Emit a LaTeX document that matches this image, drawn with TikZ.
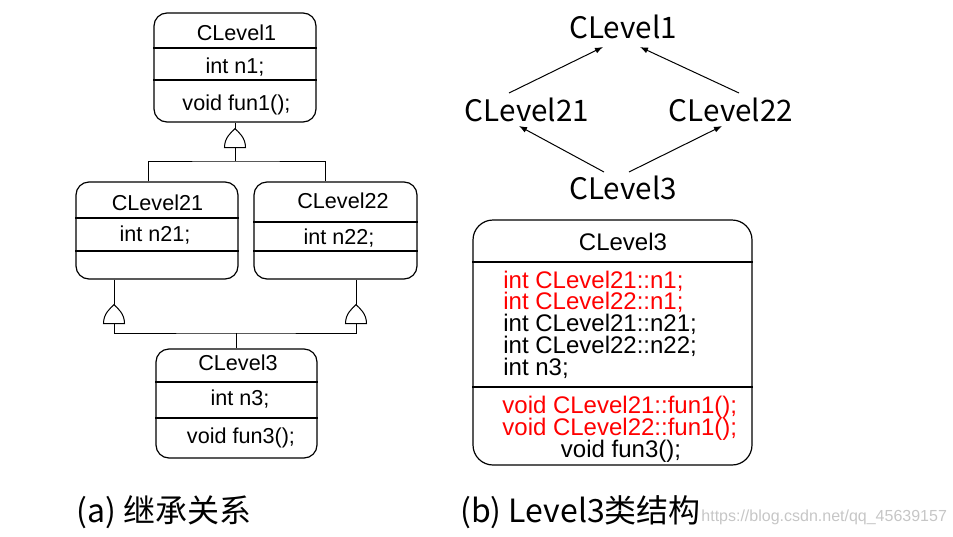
\documentclass[tikz,border=0pt]{standalone}
\usepackage{fontspec}
\setmainfont{Liberation Sans}
\newfontfamily\cjk{Noto Sans CJK SC}
\usetikzlibrary{calc,arrows.meta}

\begin{document}
\begin{tikzpicture}[
        x=0.5pt, y=-0.5pt,
        classBox/.style={rectangle, draw, rounded corners=6.5pt, line width=0.6pt, inner sep=0pt},
        memberText/.style={anchor=base, inner sep=0pt, font=\fontsize{10.8}{12}\selectfont},
        fieldText/.style={anchor=base west, inner sep=0pt, font=\fontsize{12}{13}\selectfont},
        graphNode/.style={inner sep=0pt, font=\cjk\fontsize{14.8}{18}\selectfont},
        captionText/.style={anchor=west, inner sep=0pt, font=\cjk\fontsize{16}{18}\selectfont},
        inhLine/.style={draw, line width=0.5pt},
        depArrow/.style={-{Latex[length=4pt,width=3pt]}, line width=0.5pt},
        inhHead/.pic={\draw[line width=0.5pt, fill=white] (-10.5,19) .. controls (-10.5,9) and (-4,4) .. (0,0) .. controls (4,4) and (10.5,9) .. (10.5,19) -- cycle;}
    ]
        \useasboundingbox (0,0) rectangle (953,536);

        % (a) class boxes
        \node[classBox, minimum width=81pt, minimum height=54.5pt] (lv1) at (235,67.5) {};
        \node[classBox, minimum width=81pt, minimum height=48.5pt] (lv21) at (157,230.5) {};
        \node[classBox, minimum width=81.5pt, minimum height=48.5pt] (lv22) at (335.5,230.5) {};
        \node[classBox, minimum width=80.5pt, minimum height=54.5pt] (lv3) at (236.5,403.5) {};

        % Dividers
        \draw[line width=0.6pt] (lv1.west |- 0,48) -- (lv1.east |- 0,48);
        \draw[line width=0.6pt] (lv1.west |- 0,80) -- (lv1.east |- 0,80);
        \draw[line width=0.6pt] (lv21.west |- 0,218) -- (lv21.east |- 0,218);
        \draw[line width=0.6pt] (lv21.west |- 0,251) -- (lv21.east |- 0,251);
        \draw[line width=0.6pt] (lv22.west |- 0,222) -- (lv22.east |- 0,222);
        \draw[line width=0.6pt] (lv22.west |- 0,251) -- (lv22.east |- 0,251);
        \draw[line width=0.6pt] (lv3.west |- 0,382) -- (lv3.east |- 0,382);
        \draw[line width=0.6pt] (lv3.west |- 0,418) -- (lv3.east |- 0,418);

        % Members
        \node[memberText] (lv1name) at (236.5,40) {CLevel1};
        \node[memberText] (lv1var) at (235,73) {int n1;};
        \node[memberText] (lv1fun) at (236.5,110) {void fun1();};
        \node[memberText] (lv21name) at (157.5,210) {CLevel21};
        \node[memberText] (lv21var) at (155,241) {int n21;};
        \node[memberText] (lv22name) at (343,208) {CLevel22};
        \node[memberText] (lv22var) at (339,244) {int n22;};
        \node[memberText] (lv3name) at (238,370) {CLevel3};
        \node[memberText] (lv3var) at (240,405) {int n3;};
        \node[memberText] (lv3fun) at (241,443) {void fun3();};

        % Inheritance lines
        \coordinate (j1) at (235,161);
        \coordinate (j2) at (236.5,333);
        \draw[inhLine] (lv1.south) -- (j1);
        \draw[inhLine] ($(lv21.north)+(-9,0)$) |- (j1) -| ($(lv22.north)+(-10.5,0)$);
        \draw[inhLine] ($(lv21.south)+(-43,0)$) |- (j2) -| ($(lv22.south)+(20.5,0)$);
        \draw[inhLine] (j2) -- (lv3.north);
        \pic at ($(lv1.south)+(0,6)$) {inhHead};
        \pic at ($(lv21.south)+(-43,25)$) {inhHead};
        \pic at ($(lv22.south)+(20.5,25)$) {inhHead};

        % (b) graph
        \node[graphNode] (g1) at (623,27) {CLevel1};
        \node[graphNode] (g21) at (527,110) {CLevel21};
        \node[graphNode] (g22) at (731,110) {CLevel22};
        \node[graphNode] (g3) at (623,188) {CLevel3};
        \draw[depArrow] ($(g21)+(-18,-17)$) -- ($(g1)+(-20,20)$);
        \draw[depArrow] ($(g22)+(8,-17)$) -- ($(g1)+(17,20)$);
        \draw[depArrow] ($(g3)+(-19,-16)$) -- ($(g21)+(-8,16)$);
        \draw[depArrow] ($(g3)+(6,-16)$) -- ($(g22)+(-9,16)$);

        % (b) full class box
        \node[classBox, rounded corners=10pt, minimum width=139.5pt, minimum height=122.5pt] (lv3full) at (612.5,342.5) {};
        \draw[line width=0.6pt] (lv3full.west |- 0,262) -- (lv3full.east |- 0,262);
        \draw[line width=0.6pt] (lv3full.west |- 0,387) -- (lv3full.east |- 0,387);
        \node[memberText, font=\fontsize{12}{13}\selectfont] (fname) at (623,250) {CLevel3};
        \node[fieldText, red] (f1) at (503,288) {int CLevel21::n1;};
        \node[fieldText, red] (f2) at (503,309) {int CLevel22::n1;};
        \node[fieldText] (f3) at (503,331) {int CLevel21::n21;};
        \node[fieldText] (f4) at (503,353) {int CLevel22::n22;};
        \node[fieldText] (f5) at (503,375) {int n3;};
        \node[fieldText, red] (f6) at (502,413) {void CLevel21::fun1();};
        \node[fieldText, red] (f7) at (502,435.5) {void CLevel22::fun1();};
        \node[memberText, font=\fontsize{12}{13}\selectfont] (f8) at (621,457) {void fun3();};

        % Captions
        \node[captionText] (capa) at (76,512) {(a) 继承关系};
        \node[captionText] (capb) at (460,512) {(b) Level3类结构};
        \node[anchor=west, inner sep=0pt, gray!45, font=\fontsize{8}{9}\selectfont] (mark) at (701,517) {https://blog.csdn.net/qq\_45639157};
    \end{tikzpicture}
\end{document}
